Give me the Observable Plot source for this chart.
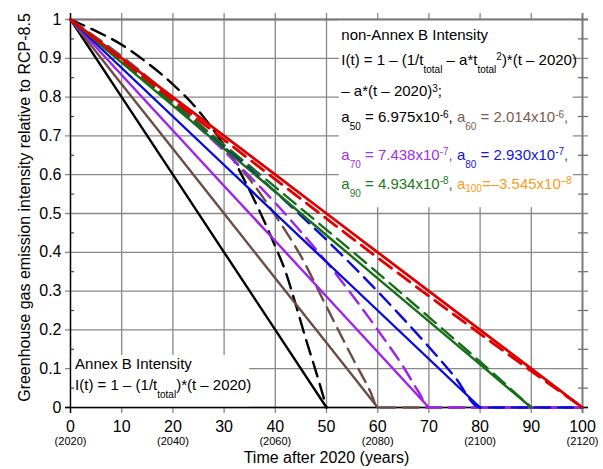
<!DOCTYPE html>
<html><head><meta charset="utf-8">
<script src="https://cdn.jsdelivr.net/npm/d3@7"></script>
<script src="https://cdn.jsdelivr.net/npm/@observablehq/plot@0.6"></script>
<style>body{margin:0;background:#fff} svg{display:block}</style>
</head><body><div id="chart"></div>
<script>
// ---- data ----
const totals = [50, 60, 70, 80, 90, 100];
const lineColors = ["#000000", "#6b4d43", "#a020f0", "#0808e0", "#176e17", "#e00000"];
const textColors = ["#000000", "#7a5c50", "#a030e8", "#1515e0", "#247a24", "#ff9a1a"];

// Annex B (solid) intensity
const annexB50X = [0, 10, 20, 30, 40, 50];
const annexB50 = [1, 0.80, 0.60, 0.40, 0.20, 0];
const annexB60X = [0, 10, 20, 30, 40, 50, 60];
const annexB60 = [1, 0.833, 0.667, 0.50, 0.333, 0.167, 0];
const annexB70X = [0, 10, 20, 30, 40, 50, 60, 70];
const annexB70 = [1, 0.857, 0.714, 0.571, 0.429, 0.286, 0.143, 0];
const annexB80X = [0, 10, 20, 30, 40, 50, 60, 70, 80];
const annexB80 = [1, 0.875, 0.75, 0.625, 0.50, 0.375, 0.25, 0.125, 0];
const annexB90X = [0, 10, 20, 30, 40, 50, 60, 70, 80, 90];
const annexB90 = [1, 0.889, 0.778, 0.667, 0.556, 0.444, 0.333, 0.222, 0.111, 0];
const annexB100X = [0, 10, 20, 30, 40, 50, 60, 70, 80, 90, 100];
const annexB100 = [1, 0.90, 0.80, 0.70, 0.60, 0.50, 0.40, 0.30, 0.20, 0.10, 0];

// non-Annex B (dashed) intensity
const nonAnnexB50X = [0, 5, 10, 15, 20, 25, 29, 32, 34, 37.5, 40, 42, 44, 46, 48, 50];
const nonAnnexB50 = [1, 0.97, 0.935, 0.888, 0.833, 0.765, 0.695, 0.635, 0.585, 0.49, 0.415, 0.35, 0.265, 0.175, 0.09, 0];
const nonAnnexB60X = [0, 10, 20, 30, 35, 40, 45, 50, 55, 58.6, 60, 100];
const nonAnnexB60 = [1, 0.905, 0.795, 0.665, 0.588, 0.495, 0.39, 0.26, 0.13, 0.04, 0, 0];
const nonAnnexB70X = [0, 10, 20, 30, 40, 45, 50, 55, 60, 65, 68, 70, 100];
const nonAnnexB70 = [1, 0.893, 0.781, 0.661, 0.527, 0.453, 0.375, 0.29, 0.20, 0.105, 0.04, 0, 0];
const nonAnnexB80X = [0, 10, 20, 30, 40, 50, 60, 70, 75, 80, 100];
const nonAnnexB80 = [1, 0.893, 0.785, 0.673, 0.556, 0.432, 0.299, 0.156, 0.08, 0, 0];
const nonAnnexB90X = [0, 10, 20, 30, 40, 50, 60, 70, 80, 90];
const nonAnnexB90 = [1, 0.893, 0.785, 0.677, 0.568, 0.458, 0.347, 0.233, 0.118, 0];
const nonAnnexB100X = [0, 10, 20, 30, 40, 50, 60, 70, 80, 90, 100];
const nonAnnexB100 = [1, 0.897, 0.793, 0.69, 0.588, 0.487, 0.386, 0.287, 0.19, 0.094, 0];

// ticks
const xTicks = [0, 10, 20, 30, 40, 50, 60, 70, 80, 90, 100];
const xTickLabels = ["0", "10", "20", "30", "40", "50", "60", "70", "80", "90", "100"];
const yearTicks = [0, 20, 40, 60, 80, 100];
const yearLabels = ["(2020)", "(2040)", "(2060)", "(2080)", "(2100)", "(2120)"];
const yTicks = [0, 0.1, 0.2, 0.3, 0.4, 0.5, 0.6, 0.7, 0.8, 0.9, 1];
const yTickLabels = ["0", "0.1", "0.2", "0.3", "0.4", "0.5", "0.6", "0.7", "0.8", "0.9", "1"];
const yMinor = [0.05, 0.15, 0.25, 0.35, 0.45, 0.55, 0.65, 0.75, 0.85, 0.95];

const xLabel = "Time after 2020 (years)";
const yLabel = "Greenhouse gas emission intensity relative to RCP-8.5";

// annotation texts: [text, kind, colorIndex]
const trLines = [
  [["non-Annex B Intensity", "n", 0]],
  [["I(t) = 1 – (1/t", "n", 0], ["total", "sub", 0], [" – a*t", "n", 0], ["total", "sub", 0], ["2", "sup", 0], [")*(t – 2020)", "n", 0]],
  [["– a*(t – 2020)", "n", 0], ["3", "sup", 0], [";", "n", 0]],
  [["a", "n", 0], ["50", "sub", 0], [" = 6.975x10", "n", 0], ["-6", "sup", 0], [", ", "n", 0], ["a", "n", 1], ["60", "sub", 1], [" = 2.014x10", "n", 1], ["-6", "sup", 1], [",", "n", 1]],
  [["a", "n", 2], ["70", "sub", 2], [" = 7.438x10", "n", 2], ["-7", "sup", 2], [", ", "n", 2], ["a", "n", 3], ["80", "sub", 3], [" = 2.930x10", "n", 3], ["-7", "sup", 3], [",", "n", 4]],
  [["a", "n", 4], ["90", "sub", 4], [" = 4.934x10", "n", 4], ["-8", "sup", 4], [", ", "n", 4], ["a", "n", 5], ["100", "low", 5], ["=–3.545x10", "n", 5], ["–8", "sup", 5]]
];
const blLines = [
  [["Annex B Intensity", "n", 0]],
  [["I(t) = 1 – (1/t", "n", 0], ["total", "sub", 0], [")*(t – 2020)", "n", 0]]
];
// annotation layout (data units)
const trPos = {x: 52.9, y: [0.948, 0.883, 0.802, 0.735, 0.638, 0.564]};
const blPos = {x: 0.9, y: [0.098, 0.0456]};
const boxes = [
  {x1: 52.5, x2: 98.2, y1: 0.515, y2: 1},
  {x1: 0.15, x2: 35, y1: 0, y2: 0.134}
];

// ---- build tables ----
const toRows = (xs, vs) => xs.map((t, i) => ({t, v: vs[i]}));
const solid = [
  toRows(annexB50X, annexB50), toRows(annexB60X, annexB60), toRows(annexB70X, annexB70),
  toRows(annexB80X, annexB80), toRows(annexB90X, annexB90), toRows(annexB100X, annexB100)
];
const dashed = [
  toRows(nonAnnexB50X, nonAnnexB50), toRows(nonAnnexB60X, nonAnnexB60), toRows(nonAnnexB70X, nonAnnexB70),
  toRows(nonAnnexB80X, nonAnnexB80), toRows(nonAnnexB90X, nonAnnexB90), toRows(nonAnnexB100X, nonAnnexB100)
];
const plain = parts => parts.map(p => p[0]).join("");
const trRows = trLines.map((parts, i) => ({x: trPos.x, y: trPos.y[i], s: plain(parts), id: "tr-" + i}));
const blRows = blLines.map((parts, i) => ({x: blPos.x, y: blPos.y[i], s: plain(parts), id: "bl-" + i}));

const seriesMarks = [];
totals.forEach((T, i) => {
  const w = T === 100 ? 2.8 : 2.4;
  seriesMarks.push(Plot.line(solid[i], {x: "t", y: "v", stroke: lineColors[i], strokeWidth: w}));
  seriesMarks.push(Plot.line(dashed[i], {x: "t", y: "v", stroke: lineColors[i], strokeWidth: w,
    strokeDasharray: "15,8", curve: "monotone-x"}));
});

const chart = Plot.plot({
  width: 603, height: 469,
  marginTop: 19, marginRight: 21, marginBottom: 62, marginLeft: 70,
  x: {domain: [0, 100]},
  y: {domain: [0, 1]},
  style: {fontFamily: "'Liberation Sans', Arial, Helvetica, sans-serif", fontSize: "16px", background: "white", color: "black"},
  marks: [
    Plot.ruleX(xTicks, {stroke: "#888", strokeWidth: 1.3, insetTop: -6, insetBottom: -6}),
    Plot.ruleY(yTicks, {stroke: "#888", strokeWidth: 1.3, insetLeft: -5, insetRight: -6}),
    Plot.rect(boxes, {x1: "x1", x2: "x2", y1: "y1", y2: "y2", fill: "white"}),
    Plot.ruleY(yMinor, {x1: 0, x2: 0, insetRight: -4, stroke: "#444", strokeWidth: 1.2}),
    Plot.ruleY(yMinor, {x1: 100, x2: 100, insetLeft: -4, insetRight: -6, stroke: "#666", strokeWidth: 1.2}),
    Plot.ruleY([1], {stroke: "#777", strokeWidth: 1.8, insetRight: -6}),
    Plot.ruleX([100], {stroke: "#777", strokeWidth: 1.8, insetTop: -6, insetBottom: -6}),
    Plot.ruleX([0], {stroke: "black", strokeWidth: 1.4, insetTop: -6, insetBottom: -6}),
    Plot.ruleY([0], {stroke: "black", strokeWidth: 1.4, insetLeft: -5, insetRight: -6}),
    ...seriesMarks,
    Plot.axisX({ticks: xTicks, tickSize: 0, tickPadding: 13, fontSize: 16, label: null,
      tickFormat: d => xTickLabels[xTicks.indexOf(d)]}),
    Plot.axisX({ticks: yearTicks, tickSize: 0, tickPadding: 30, fontSize: 11, label: null,
      tickFormat: d => yearLabels[yearTicks.indexOf(d)]}),
    Plot.axisY({ticks: yTicks, tickSize: 0, tickPadding: 9, fontSize: 16, label: null,
      tickFormat: d => yTickLabels[yTicks.indexOf(d)]}),
    Plot.text([xLabel], {text: d => d, frameAnchor: "bottom", dy: 55, lineAnchor: "bottom", fontSize: 16}),
    Plot.text([yLabel], {text: d => d, frameAnchor: "left", rotate: -90, dx: -41, dy: -6, lineAnchor: "bottom", textAnchor: "middle", fontSize: 16}),
    Plot.text(trRows, {x: "x", y: "y", text: "s", ariaLabel: "id", textAnchor: "start", lineAnchor: "bottom", fontSize: 15}),
    Plot.text(blRows, {x: "x", y: "y", text: "s", ariaLabel: "id", textAnchor: "start", lineAnchor: "bottom", fontSize: 15})
  ]
});

// rich text (sub/superscripts and colours) for annotations
const NS = "http://www.w3.org/2000/svg";
const shift = {n: 0, sub: 8, sup: -4.5, low: 3};
function richify(prefix, lines) {
  chart.querySelectorAll(`text[aria-label^="${prefix}-"]`).forEach(el => {
    const i = +el.getAttribute("aria-label").slice(prefix.length + 1);
    const parts = lines[i];
    if (!parts) return;
    el.textContent = "";
    el.style.whiteSpace = "pre";
    let cur = 0;
    for (const [s, kind, c] of parts) {
      const ts = document.createElementNS(NS, "tspan");
      const target = shift[kind];
      if (target !== cur) ts.setAttribute("dy", target - cur);
      cur = target;
      if (kind !== "n") ts.setAttribute("font-size", 10);
      ts.setAttribute("fill", textColors[c]);
      ts.textContent = s;
      el.appendChild(ts);
    }
  });
}
richify("tr", trLines);
richify("bl", blLines);

document.getElementById("chart").appendChild(chart);
</script>
</body></html>
